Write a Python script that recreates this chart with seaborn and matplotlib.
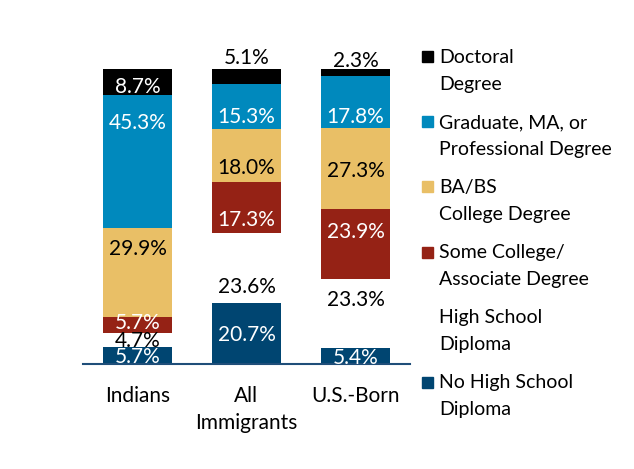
import matplotlib
matplotlib.use("Agg")
import matplotlib.pyplot as plt
from matplotlib.patches import Rectangle
import numpy as np
import pandas as pd
import seaborn as sb

# groups on the x axis
groups = ["Indians", "All\nImmigrants", "U.S.-Born"]

# education levels, bottom of the stack first
levels = ["No High School\nDiploma", "High School\nDiploma", "Some College/\nAssociate Degree",
          "BA/BS\nCollege Degree", "Graduate, MA, or\nProfessional Degree", "Doctoral\nDegree"]

# shares in percent, one list per level (Indians, All Immigrants, U.S.-Born)
no_hs = [5.7, 20.7, 5.4]
hs = [4.7, 23.6, 23.3]
some_college = [5.7, 17.3, 23.9]
ba = [29.9, 18.0, 27.3]
graduate = [45.3, 15.3, 17.8]
doctoral = [8.7, 5.1, 2.3]

series = [no_hs, hs, some_college, ba, graduate, doctoral]
colors = ["#004571", "#FFFFFF", "#952215", "#E9BF66", "#0089BD", "#000000"]
text_colors = ["white", "black", "white", "black", "white", "white"]

# vertical spot of each value label (percent units), per level
label_y = [
    [2.4, 9.8, 2.0],
    [7.8, 26.1, 21.7],
    [13.9, 48.8, 44.7],
    [39.0, 66.4, 65.4],
    [81.7, 83.7, 83.7],
    [93.9, 103.7, 102.7],
]

plt.rcParams['font.family'] = ['Lato', 'DejaVu Sans']

fig = plt.figure(figsize=(6.34, 4.69), dpi=100)
ax = fig.add_axes([83 / 634, 1 - 364 / 469, (410 - 83) / 634, (364 - 69) / 469])

df = pd.DataFrame({"group": groups})
bottom = np.zeros(len(groups))
for vals, col in zip(series, colors):
    df["val"] = vals
    sb.barplot(data=df, x="group", y="val", bottom=bottom, color=col,
               width=0.63, saturation=1, ax=ax, linewidth=0)
    bottom = bottom + np.array(vals)

# value labels
for i, vals in enumerate(series):
    for j, v in enumerate(vals):
        # labels that sit above the bar are black
        tc = text_colors[i] if label_y[i][j] <= 100 else "black"
        ax.text(j, label_y[i][j], "%.1f%%" % v, ha="center", va="center",
                fontsize=15, color=tc, clip_on=False)

ax.set_xlim(-0.5, 2.5)
ax.set_ylim(0, 100)
ax.set_xlabel("")
ax.set_ylabel("")
ax.set_yticks([])
for s in ["top", "right", "left"]:
    ax.spines[s].set_visible(False)
ax.spines["bottom"].set_color("#1F4E79")
ax.spines["bottom"].set_linewidth(1.5)
ax.tick_params(axis="x", length=0, pad=16, labelsize=15)
for t in ax.get_xticklabels():
    t.set_linespacing(1.45)

# legend drawn by hand so the square sits on the first line
leg_top = 57
for k, i in enumerate(range(len(levels) - 1, -1, -1)):
    y = leg_top + 65 * k
    if colors[i] != "#FFFFFF":
        fig.patches.append(Rectangle((422 / 634, 1 - (y + 5.5) / 469), 11 / 634, 11 / 469,
                                     transform=fig.transFigure, color=colors[i]))
    fig.text(439 / 634, 1 - (y - 8) / 469, levels[i], fontsize=14, va="top",
             ha="left", linespacing=1.7)

plt.savefig("out.png", dpi=100)
